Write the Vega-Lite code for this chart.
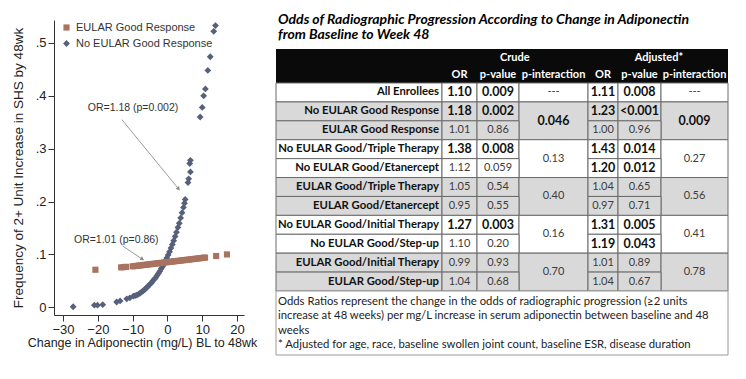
{
  "$schema": "https://vega.github.io/schema/vega-lite/v6.json",
  "background": "white",
  "padding": {"left": 11, "top": 12, "right": 5, "bottom": 5},
  "config": {"view": {"stroke": null}, "font": "Liberation Sans", "axis": {"labelOverlap": false}},
  "spacing": 32,
  "bounds": "flush",
  "datasets": {
    "points": [
      {"x": -27.1, "y": 0.001, "g": "No EULAR Good Response"},
      {"x": -21.0, "y": 0.004, "g": "No EULAR Good Response"},
      {"x": -20.1, "y": 0.004, "g": "No EULAR Good Response"},
      {"x": -18.6, "y": 0.005, "g": "No EULAR Good Response"},
      {"x": -14.6, "y": 0.010, "g": "No EULAR Good Response"},
      {"x": -13.6, "y": 0.012, "g": "No EULAR Good Response"},
      {"x": -11.7, "y": 0.016, "g": "No EULAR Good Response"},
      {"x": -10.8, "y": 0.018, "g": "No EULAR Good Response"},
      {"x": -9.8, "y": 0.021, "g": "No EULAR Good Response"},
      {"x": -9.3, "y": 0.022, "g": "No EULAR Good Response"},
      {"x": -8.8, "y": 0.023, "g": "No EULAR Good Response"},
      {"x": -8.3, "y": 0.025, "g": "No EULAR Good Response"},
      {"x": -7.8, "y": 0.027, "g": "No EULAR Good Response"},
      {"x": -7.4, "y": 0.029, "g": "No EULAR Good Response"},
      {"x": -7.0, "y": 0.031, "g": "No EULAR Good Response"},
      {"x": -6.6, "y": 0.033, "g": "No EULAR Good Response"},
      {"x": -6.2, "y": 0.036, "g": "No EULAR Good Response"},
      {"x": -5.8, "y": 0.038, "g": "No EULAR Good Response"},
      {"x": -5.4, "y": 0.041, "g": "No EULAR Good Response"},
      {"x": -5.0, "y": 0.044, "g": "No EULAR Good Response"},
      {"x": -4.6, "y": 0.046, "g": "No EULAR Good Response"},
      {"x": -4.2, "y": 0.050, "g": "No EULAR Good Response"},
      {"x": -3.8, "y": 0.053, "g": "No EULAR Good Response"},
      {"x": -3.4, "y": 0.056, "g": "No EULAR Good Response"},
      {"x": -3.0, "y": 0.060, "g": "No EULAR Good Response"},
      {"x": -2.6, "y": 0.064, "g": "No EULAR Good Response"},
      {"x": -2.2, "y": 0.068, "g": "No EULAR Good Response"},
      {"x": -1.8, "y": 0.073, "g": "No EULAR Good Response"},
      {"x": -1.4, "y": 0.077, "g": "No EULAR Good Response"},
      {"x": -1.0, "y": 0.082, "g": "No EULAR Good Response"},
      {"x": -0.6, "y": 0.088, "g": "No EULAR Good Response"},
      {"x": -0.2, "y": 0.093, "g": "No EULAR Good Response"},
      {"x": 0.2, "y": 0.099, "g": "No EULAR Good Response"},
      {"x": 0.6, "y": 0.105, "g": "No EULAR Good Response"},
      {"x": 1.0, "y": 0.112, "g": "No EULAR Good Response"},
      {"x": 1.4, "y": 0.119, "g": "No EULAR Good Response"},
      {"x": 1.8, "y": 0.126, "g": "No EULAR Good Response"},
      {"x": 2.2, "y": 0.134, "g": "No EULAR Good Response"},
      {"x": 2.6, "y": 0.142, "g": "No EULAR Good Response"},
      {"x": 3.0, "y": 0.151, "g": "No EULAR Good Response"},
      {"x": 3.4, "y": 0.159, "g": "No EULAR Good Response"},
      {"x": 3.8, "y": 0.169, "g": "No EULAR Good Response"},
      {"x": 4.2, "y": 0.179, "g": "No EULAR Good Response"},
      {"x": 4.6, "y": 0.189, "g": "No EULAR Good Response"},
      {"x": 4.9, "y": 0.197, "g": "No EULAR Good Response"},
      {"x": 5.1, "y": 0.204, "g": "No EULAR Good Response"},
      {"x": 5.9, "y": 0.236, "g": "No EULAR Good Response"},
      {"x": 6.1, "y": 0.243, "g": "No EULAR Good Response"},
      {"x": 6.6, "y": 0.256, "g": "No EULAR Good Response"},
      {"x": 6.4, "y": 0.272, "g": "No EULAR Good Response"},
      {"x": 6.6, "y": 0.278, "g": "No EULAR Good Response"},
      {"x": 9.4, "y": 0.360, "g": "No EULAR Good Response"},
      {"x": 10.0, "y": 0.378, "g": "No EULAR Good Response"},
      {"x": 10.4, "y": 0.400, "g": "No EULAR Good Response"},
      {"x": 10.9, "y": 0.413, "g": "No EULAR Good Response"},
      {"x": 11.6, "y": 0.448, "g": "No EULAR Good Response"},
      {"x": 12.3, "y": 0.474, "g": "No EULAR Good Response"},
      {"x": 13.3, "y": 0.522, "g": "No EULAR Good Response"},
      {"x": 13.8, "y": 0.533, "g": "No EULAR Good Response"},
      {"x": -20.7, "y": 0.071, "g": "EULAR Good Response"},
      {"x": -13.3, "y": 0.0755, "g": "EULAR Good Response"},
      {"x": -12.6, "y": 0.076, "g": "EULAR Good Response"},
      {"x": -11.9, "y": 0.0765, "g": "EULAR Good Response"},
      {"x": -10.0, "y": 0.0775, "g": "EULAR Good Response"},
      {"x": -9.4, "y": 0.0780, "g": "EULAR Good Response"},
      {"x": -8.8, "y": 0.0784, "g": "EULAR Good Response"},
      {"x": -8.2, "y": 0.0789, "g": "EULAR Good Response"},
      {"x": -7.6, "y": 0.0794, "g": "EULAR Good Response"},
      {"x": -7.0, "y": 0.0799, "g": "EULAR Good Response"},
      {"x": -6.4, "y": 0.0803, "g": "EULAR Good Response"},
      {"x": -5.8, "y": 0.0808, "g": "EULAR Good Response"},
      {"x": -5.2, "y": 0.0813, "g": "EULAR Good Response"},
      {"x": -4.6, "y": 0.0818, "g": "EULAR Good Response"},
      {"x": -4.0, "y": 0.0822, "g": "EULAR Good Response"},
      {"x": -3.4, "y": 0.0827, "g": "EULAR Good Response"},
      {"x": -2.8, "y": 0.0832, "g": "EULAR Good Response"},
      {"x": -2.2, "y": 0.0837, "g": "EULAR Good Response"},
      {"x": -1.6, "y": 0.0841, "g": "EULAR Good Response"},
      {"x": -1.0, "y": 0.0846, "g": "EULAR Good Response"},
      {"x": -0.4, "y": 0.0851, "g": "EULAR Good Response"},
      {"x": 0.2, "y": 0.0856, "g": "EULAR Good Response"},
      {"x": 0.8, "y": 0.0860, "g": "EULAR Good Response"},
      {"x": 1.4, "y": 0.0865, "g": "EULAR Good Response"},
      {"x": 2.0, "y": 0.0870, "g": "EULAR Good Response"},
      {"x": 2.6, "y": 0.0875, "g": "EULAR Good Response"},
      {"x": 3.2, "y": 0.0879, "g": "EULAR Good Response"},
      {"x": 3.8, "y": 0.0884, "g": "EULAR Good Response"},
      {"x": 4.4, "y": 0.0889, "g": "EULAR Good Response"},
      {"x": 5.0, "y": 0.0894, "g": "EULAR Good Response"},
      {"x": 5.6, "y": 0.0898, "g": "EULAR Good Response"},
      {"x": 6.2, "y": 0.0903, "g": "EULAR Good Response"},
      {"x": 6.8, "y": 0.0908, "g": "EULAR Good Response"},
      {"x": 7.4, "y": 0.0913, "g": "EULAR Good Response"},
      {"x": 8.0, "y": 0.0917, "g": "EULAR Good Response"},
      {"x": 8.6, "y": 0.0922, "g": "EULAR Good Response"},
      {"x": 9.2, "y": 0.0927, "g": "EULAR Good Response"},
      {"x": 9.8, "y": 0.0932, "g": "EULAR Good Response"},
      {"x": 10.4, "y": 0.0937, "g": "EULAR Good Response"},
      {"x": 10.8, "y": 0.0940, "g": "EULAR Good Response"},
      {"x": 14.0, "y": 0.0970, "g": "EULAR Good Response"},
      {"x": 17.1, "y": 0.1000, "g": "EULAR Good Response"}
    ],
    "notes": [
      {"label": "OR=1.18 (p=0.002)", "tx": -9.9, "ty": 0.377, "ax": -13.1, "ay": 0.355, "bx": 3.2, "by": 0.224},
      {"label": "OR=1.01 (p=0.86)", "tx": -14.7, "ty": 0.128, "ax": -12.9, "ay": 0.116, "bx": -7.2, "by": 0.091}
    ],
    "cells": [
      {"t": "Crude", "kind": "head", "r0": -2, "r1": -1, "rm": -1.5, "c0": 1, "c1": 4, "cm": 2.9, "b": true, "grp": "H"},
      {"t": "Adjusted*", "kind": "head", "r0": -2, "r1": -1, "rm": -1.5, "c0": 4, "c1": 7, "cm": 5.95, "b": true, "grp": "H"},
      {"t": "OR", "kind": "head", "r0": -1, "r1": 0, "rm": -0.5, "c0": 1, "c1": 2, "cm": 1.5, "b": true, "grp": "H"},
      {"t": "p-value", "kind": "head", "r0": -1, "r1": 0, "rm": -0.5, "c0": 2, "c1": 3, "cm": 2.5, "b": true, "grp": "H"},
      {"t": "p-interaction", "kind": "head", "r0": -1, "r1": 0, "rm": -0.5, "c0": 3, "c1": 4, "cm": 3.5, "b": true, "grp": "H"},
      {"t": "OR", "kind": "head", "r0": -1, "r1": 0, "rm": -0.5, "c0": 4, "c1": 5, "cm": 4.5, "b": true, "grp": "H"},
      {"t": "p-value", "kind": "head", "r0": -1, "r1": 0, "rm": -0.5, "c0": 5, "c1": 6, "cm": 5.5, "b": true, "grp": "H"},
      {"t": "p-interaction", "kind": "head", "r0": -1, "r1": 0, "rm": -0.5, "c0": 6, "c1": 7, "cm": 6.5, "b": true, "grp": "H"},

      {"t": "All Enrollees", "kind": "label", "r0": 0, "r1": 1, "rm": 0.5, "c0": 0, "c1": 1, "cm": 0.5, "b": true, "grp": "A"},
      {"t": "1.10", "kind": "value", "r0": 0, "r1": 1, "rm": 0.5, "c0": 1, "c1": 2, "cm": 1.5, "b": true, "grp": "A"},
      {"t": "0.009", "kind": "value", "r0": 0, "r1": 1, "rm": 0.5, "c0": 2, "c1": 3, "cm": 2.5, "b": true, "grp": "A"},
      {"t": "---", "kind": "value", "r0": 0, "r1": 1, "rm": 0.5, "c0": 3, "c1": 4, "cm": 3.5, "b": false, "grp": "A"},
      {"t": "1.11", "kind": "value", "r0": 0, "r1": 1, "rm": 0.5, "c0": 4, "c1": 5, "cm": 4.5, "b": true, "grp": "A"},
      {"t": "0.008", "kind": "value", "r0": 0, "r1": 1, "rm": 0.5, "c0": 5, "c1": 6, "cm": 5.5, "b": true, "grp": "A"},
      {"t": "---", "kind": "value", "r0": 0, "r1": 1, "rm": 0.5, "c0": 6, "c1": 7, "cm": 6.5, "b": false, "grp": "A"},

      {"t": "No EULAR Good Response", "kind": "label", "r0": 1, "r1": 2, "rm": 1.5, "c0": 0, "c1": 1, "cm": 0.5, "b": true, "grp": "B"},
      {"t": "1.18", "kind": "value", "r0": 1, "r1": 2, "rm": 1.5, "c0": 1, "c1": 2, "cm": 1.5, "b": true, "grp": "B"},
      {"t": "0.002", "kind": "value", "r0": 1, "r1": 2, "rm": 1.5, "c0": 2, "c1": 3, "cm": 2.5, "b": true, "grp": "B"},
      {"t": "0.046", "kind": "value", "r0": 1, "r1": 3, "rm": 2, "c0": 3, "c1": 4, "cm": 3.5, "b": true, "grp": "B"},
      {"t": "1.23", "kind": "value", "r0": 1, "r1": 2, "rm": 1.5, "c0": 4, "c1": 5, "cm": 4.5, "b": true, "grp": "B"},
      {"t": "<0.001", "kind": "value", "r0": 1, "r1": 2, "rm": 1.5, "c0": 5, "c1": 6, "cm": 5.5, "b": true, "grp": "B"},
      {"t": "0.009", "kind": "value", "r0": 1, "r1": 3, "rm": 2, "c0": 6, "c1": 7, "cm": 6.5, "b": true, "grp": "B"},

      {"t": "EULAR Good Response", "kind": "label", "r0": 2, "r1": 3, "rm": 2.5, "c0": 0, "c1": 1, "cm": 0.5, "b": true, "grp": "B"},
      {"t": "1.01", "kind": "value", "r0": 2, "r1": 3, "rm": 2.5, "c0": 1, "c1": 2, "cm": 1.5, "b": false, "grp": "B"},
      {"t": "0.86", "kind": "value", "r0": 2, "r1": 3, "rm": 2.5, "c0": 2, "c1": 3, "cm": 2.5, "b": false, "grp": "B"},
      {"t": "1.00", "kind": "value", "r0": 2, "r1": 3, "rm": 2.5, "c0": 4, "c1": 5, "cm": 4.5, "b": false, "grp": "B"},
      {"t": "0.96", "kind": "value", "r0": 2, "r1": 3, "rm": 2.5, "c0": 5, "c1": 6, "cm": 5.5, "b": false, "grp": "B"},

      {"t": "No EULAR Good/Triple Therapy", "kind": "label", "r0": 3, "r1": 4, "rm": 3.5, "c0": 0, "c1": 1, "cm": 0.5, "b": true, "grp": "A"},
      {"t": "1.38", "kind": "value", "r0": 3, "r1": 4, "rm": 3.5, "c0": 1, "c1": 2, "cm": 1.5, "b": true, "grp": "A"},
      {"t": "0.008", "kind": "value", "r0": 3, "r1": 4, "rm": 3.5, "c0": 2, "c1": 3, "cm": 2.5, "b": true, "grp": "A"},
      {"t": "0.13", "kind": "value", "r0": 3, "r1": 5, "rm": 4, "c0": 3, "c1": 4, "cm": 3.5, "b": false, "grp": "A"},
      {"t": "1.43", "kind": "value", "r0": 3, "r1": 4, "rm": 3.5, "c0": 4, "c1": 5, "cm": 4.5, "b": true, "grp": "A"},
      {"t": "0.014", "kind": "value", "r0": 3, "r1": 4, "rm": 3.5, "c0": 5, "c1": 6, "cm": 5.5, "b": true, "grp": "A"},
      {"t": "0.27", "kind": "value", "r0": 3, "r1": 5, "rm": 4, "c0": 6, "c1": 7, "cm": 6.5, "b": false, "grp": "A"},

      {"t": "No EULAR Good/Etanercept", "kind": "label", "r0": 4, "r1": 5, "rm": 4.5, "c0": 0, "c1": 1, "cm": 0.5, "b": true, "grp": "A"},
      {"t": "1.12", "kind": "value", "r0": 4, "r1": 5, "rm": 4.5, "c0": 1, "c1": 2, "cm": 1.5, "b": false, "grp": "A"},
      {"t": "0.059", "kind": "value", "r0": 4, "r1": 5, "rm": 4.5, "c0": 2, "c1": 3, "cm": 2.5, "b": false, "grp": "A"},
      {"t": "1.20", "kind": "value", "r0": 4, "r1": 5, "rm": 4.5, "c0": 4, "c1": 5, "cm": 4.5, "b": true, "grp": "A"},
      {"t": "0.012", "kind": "value", "r0": 4, "r1": 5, "rm": 4.5, "c0": 5, "c1": 6, "cm": 5.5, "b": true, "grp": "A"},

      {"t": "EULAR Good/Triple Therapy", "kind": "label", "r0": 5, "r1": 6, "rm": 5.5, "c0": 0, "c1": 1, "cm": 0.5, "b": true, "grp": "B"},
      {"t": "1.05", "kind": "value", "r0": 5, "r1": 6, "rm": 5.5, "c0": 1, "c1": 2, "cm": 1.5, "b": false, "grp": "B"},
      {"t": "0.54", "kind": "value", "r0": 5, "r1": 6, "rm": 5.5, "c0": 2, "c1": 3, "cm": 2.5, "b": false, "grp": "B"},
      {"t": "0.40", "kind": "value", "r0": 5, "r1": 7, "rm": 6, "c0": 3, "c1": 4, "cm": 3.5, "b": false, "grp": "B"},
      {"t": "1.04", "kind": "value", "r0": 5, "r1": 6, "rm": 5.5, "c0": 4, "c1": 5, "cm": 4.5, "b": false, "grp": "B"},
      {"t": "0.65", "kind": "value", "r0": 5, "r1": 6, "rm": 5.5, "c0": 5, "c1": 6, "cm": 5.5, "b": false, "grp": "B"},
      {"t": "0.56", "kind": "value", "r0": 5, "r1": 7, "rm": 6, "c0": 6, "c1": 7, "cm": 6.5, "b": false, "grp": "B"},

      {"t": "EULAR Good/Etanercept", "kind": "label", "r0": 6, "r1": 7, "rm": 6.5, "c0": 0, "c1": 1, "cm": 0.5, "b": true, "grp": "B"},
      {"t": "0.95", "kind": "value", "r0": 6, "r1": 7, "rm": 6.5, "c0": 1, "c1": 2, "cm": 1.5, "b": false, "grp": "B"},
      {"t": "0.55", "kind": "value", "r0": 6, "r1": 7, "rm": 6.5, "c0": 2, "c1": 3, "cm": 2.5, "b": false, "grp": "B"},
      {"t": "0.97", "kind": "value", "r0": 6, "r1": 7, "rm": 6.5, "c0": 4, "c1": 5, "cm": 4.5, "b": false, "grp": "B"},
      {"t": "0.71", "kind": "value", "r0": 6, "r1": 7, "rm": 6.5, "c0": 5, "c1": 6, "cm": 5.5, "b": false, "grp": "B"},

      {"t": "No EULAR Good/Initial Therapy", "kind": "label", "r0": 7, "r1": 8, "rm": 7.5, "c0": 0, "c1": 1, "cm": 0.5, "b": true, "grp": "A"},
      {"t": "1.27", "kind": "value", "r0": 7, "r1": 8, "rm": 7.5, "c0": 1, "c1": 2, "cm": 1.5, "b": true, "grp": "A"},
      {"t": "0.003", "kind": "value", "r0": 7, "r1": 8, "rm": 7.5, "c0": 2, "c1": 3, "cm": 2.5, "b": true, "grp": "A"},
      {"t": "0.16", "kind": "value", "r0": 7, "r1": 9, "rm": 8, "c0": 3, "c1": 4, "cm": 3.5, "b": false, "grp": "A"},
      {"t": "1.31", "kind": "value", "r0": 7, "r1": 8, "rm": 7.5, "c0": 4, "c1": 5, "cm": 4.5, "b": true, "grp": "A"},
      {"t": "0.005", "kind": "value", "r0": 7, "r1": 8, "rm": 7.5, "c0": 5, "c1": 6, "cm": 5.5, "b": true, "grp": "A"},
      {"t": "0.41", "kind": "value", "r0": 7, "r1": 9, "rm": 8, "c0": 6, "c1": 7, "cm": 6.5, "b": false, "grp": "A"},

      {"t": "No EULAR Good/Step-up", "kind": "label", "r0": 8, "r1": 9, "rm": 8.5, "c0": 0, "c1": 1, "cm": 0.5, "b": true, "grp": "A"},
      {"t": "1.10", "kind": "value", "r0": 8, "r1": 9, "rm": 8.5, "c0": 1, "c1": 2, "cm": 1.5, "b": false, "grp": "A"},
      {"t": "0.20", "kind": "value", "r0": 8, "r1": 9, "rm": 8.5, "c0": 2, "c1": 3, "cm": 2.5, "b": false, "grp": "A"},
      {"t": "1.19", "kind": "value", "r0": 8, "r1": 9, "rm": 8.5, "c0": 4, "c1": 5, "cm": 4.5, "b": true, "grp": "A"},
      {"t": "0.043", "kind": "value", "r0": 8, "r1": 9, "rm": 8.5, "c0": 5, "c1": 6, "cm": 5.5, "b": true, "grp": "A"},

      {"t": "EULAR Good/Initial Therapy", "kind": "label", "r0": 9, "r1": 10, "rm": 9.5, "c0": 0, "c1": 1, "cm": 0.5, "b": true, "grp": "B"},
      {"t": "0.99", "kind": "value", "r0": 9, "r1": 10, "rm": 9.5, "c0": 1, "c1": 2, "cm": 1.5, "b": false, "grp": "B"},
      {"t": "0.93", "kind": "value", "r0": 9, "r1": 10, "rm": 9.5, "c0": 2, "c1": 3, "cm": 2.5, "b": false, "grp": "B"},
      {"t": "0.70", "kind": "value", "r0": 9, "r1": 11, "rm": 10, "c0": 3, "c1": 4, "cm": 3.5, "b": false, "grp": "B"},
      {"t": "1.01", "kind": "value", "r0": 9, "r1": 10, "rm": 9.5, "c0": 4, "c1": 5, "cm": 4.5, "b": false, "grp": "B"},
      {"t": "0.89", "kind": "value", "r0": 9, "r1": 10, "rm": 9.5, "c0": 5, "c1": 6, "cm": 5.5, "b": false, "grp": "B"},
      {"t": "0.78", "kind": "value", "r0": 9, "r1": 11, "rm": 10, "c0": 6, "c1": 7, "cm": 6.5, "b": false, "grp": "B"},

      {"t": "EULAR Good/Step-up", "kind": "label", "r0": 10, "r1": 11, "rm": 10.5, "c0": 0, "c1": 1, "cm": 0.5, "b": true, "grp": "B"},
      {"t": "1.04", "kind": "value", "r0": 10, "r1": 11, "rm": 10.5, "c0": 1, "c1": 2, "cm": 1.5, "b": false, "grp": "B"},
      {"t": "0.68", "kind": "value", "r0": 10, "r1": 11, "rm": 10.5, "c0": 2, "c1": 3, "cm": 2.5, "b": false, "grp": "B"},
      {"t": "1.04", "kind": "value", "r0": 10, "r1": 11, "rm": 10.5, "c0": 4, "c1": 5, "cm": 4.5, "b": false, "grp": "B"},
      {"t": "0.67", "kind": "value", "r0": 10, "r1": 11, "rm": 10.5, "c0": 5, "c1": 6, "cm": 5.5, "b": false, "grp": "B"}
    ]
  },
  "hconcat": [
    {
      "width": 190,
      "height": 295,
      "encoding": {
        "x": {
          "type": "quantitative",
          "scale": {"domain": [-32.6, 22], "nice": false, "zero": false},
          "axis": {
            "title": "Change in Adiponectin (mg/L) BL to 48wk",
            "values": [-30, -20, -10, 0, 10, 20],
            "grid": false, "tickSize": 6, "labelPadding": 2, "labelFlush": false, "labelOverlap": false,
            "labelFontSize": 13, "labelFont": "Liberation Sans", "labelColor": "#222",
            "titleFontSize": 12.5, "titleFont": "Liberation Sans", "titleFontWeight": "normal", "titleColor": "#222",
            "titlePadding": 0, "titleX": 88,
            "domainColor": "#333", "tickColor": "#333"
          }
        },
        "y": {
          "type": "quantitative",
          "scale": {"domain": [-0.0146, 0.5435], "nice": false, "zero": false},
          "axis": {
            "title": "Frequency of 2+ Unit Increase in SHS by 48wk",
            "values": [0, 0.1, 0.2, 0.3, 0.4, 0.5],
            "labelExpr": "datum.value == 0 ? '0' : substring(format(datum.value, '.1f'), 1)",
            "grid": false, "tickSize": 6, "labelPadding": 2, "labelOverlap": false,
            "labelFontSize": 13, "labelFont": "Liberation Sans", "labelColor": "#222",
            "titleFontSize": 13.5, "titleFont": "Liberation Sans", "titleFontWeight": "normal", "titleColor": "#222",
            "titlePadding": 10,
            "domainColor": "#333", "tickColor": "#333"
          }
        }
      },
      "layer": [
        {
          "data": {"name": "points"},
          "mark": {"type": "point", "filled": true, "opacity": 1},
          "encoding": {
            "x": {"field": "x"},
            "y": {"field": "y"},
            "color": {
              "field": "g", "type": "nominal",
              "scale": {"domain": ["EULAR Good Response", "No EULAR Good Response"], "range": ["#a8735f", "#56607a"]},
              "legend": {
                "title": null, "orient": "none", "legendX": 7, "legendY": 2,
                "labelFontSize": 11, "labelFont": "Liberation Sans", "labelColor": "#333",
                "symbolSize": 36, "rowPadding": 4, "labelOffset": 4
              }
            },
            "shape": {
              "field": "g", "type": "nominal",
              "scale": {"domain": ["EULAR Good Response", "No EULAR Good Response"], "range": ["square", "diamond"]}
            },
            "size": {
              "field": "g", "type": "nominal",
              "scale": {"domain": ["EULAR Good Response", "No EULAR Good Response"], "range": [38, 46]},
              "legend": null
            }
          }
        },
        {
          "data": {"name": "notes"},
          "mark": {"type": "rule", "color": "#9a9a9a", "strokeWidth": 1},
          "encoding": {
            "x": {"field": "ax"},
            "y": {"field": "ay"},
            "x2": {"field": "bx"},
            "y2": {"field": "by"}
          }
        },
        {
          "data": {"name": "notes"},
          "mark": {"type": "point", "shape": "triangle-down", "filled": true, "color": "#8a8a8a", "size": 20, "opacity": 1},
          "encoding": {
            "x": {"field": "bx"},
            "y": {"field": "by"},
            "angle": {"field": "label", "type": "nominal", "scale": {"domain": ["OR=1.18 (p=0.002)", "OR=1.01 (p=0.86)"], "range": [320.7, 304.1]}, "legend": null}
          }
        },
        {
          "data": {"name": "notes"},
          "mark": {"type": "text", "fontSize": 10.5, "font": "Liberation Sans", "fill": "#333", "align": "center", "baseline": "middle"},
          "encoding": {
            "x": {"field": "tx"},
            "y": {"field": "ty"},
            "text": {"field": "label"}
          }
        }
      ]
    },
    {
      "width": 452,
      "height": 336,
      "encoding": {
        "x": {"type": "quantitative", "scale": {"domain": [0, 1, 2, 3, 4, 5, 6, 7], "range": [0, 166, 201, 243, 312, 342, 385, 452], "nice": false, "zero": false}, "axis": null},
        "y": {"type": "quantitative", "scale": {"domain": [-4, -2, 0, 11, 15], "range": [-2, 29, 63, 271, 335], "nice": false, "zero": false}, "axis": null}
      },
      "layer": [
        {
          "data": {"values": [{}]},
          "mark": {"type": "rect", "fill": "#0a0a0a"},
          "encoding": {
            "x": {"datum": 0},
            "x2": {"datum": 7},
            "y": {"datum": -2},
            "y2": {"datum": 0}
          }
        },
        {
          "data": {"name": "cells"},
          "transform": [{"filter": "datum.kind != 'head'"}],
          "mark": {"type": "rect", "stroke": "#6b6b6b", "strokeWidth": 1},
          "encoding": {
            "x": {"field": "c0"},
            "x2": {"field": "c1"},
            "y": {"field": "r0"},
            "y2": {"field": "r1"},
            "fill": {"field": "grp", "type": "nominal", "scale": {"domain": ["A", "B"], "range": ["#ffffff", "#d9d9d9"]}, "legend": null}
          }
        },
        {
          "data": {"values": [{}]},
          "mark": {"type": "rect", "fill": "#ffffff", "stroke": "#9a9a9a", "strokeWidth": 1},
          "encoding": {
            "x": {"datum": 0},
            "x2": {"datum": 7},
            "y": {"datum": 11},
            "y2": {"datum": 15}
          }
        },
        {
          "data": {"name": "cells"},
          "transform": [{"filter": "datum.kind == 'label'"}],
          "mark": {"type": "text", "align": "right", "baseline": "middle", "dx": -3, "font": "Lato", "fontWeight": "bold", "fontSize": 11.3, "fill": "#111"},
          "encoding": {
            "x": {"datum": 1},
            "y": {"field": "rm"},
            "text": {"field": "t"}
          }
        },
        {
          "data": {"name": "cells"},
          "transform": [{"filter": "datum.kind == 'value' && datum.b"}],
          "mark": {"type": "text", "align": "center", "baseline": "middle", "font": "Lato", "fontWeight": "bold", "fontSize": 12.5, "fill": "#111"},
          "encoding": {
            "x": {"field": "cm"},
            "y": {"field": "rm"},
            "text": {"field": "t"}
          }
        },
        {
          "data": {"name": "cells"},
          "transform": [{"filter": "datum.kind == 'value' && !datum.b"}],
          "mark": {"type": "text", "align": "center", "baseline": "middle", "font": "Lato", "fontSize": 11, "fill": "#3c3c3c"},
          "encoding": {
            "x": {"field": "cm"},
            "y": {"field": "rm"},
            "text": {"field": "t"}
          }
        },
        {
          "data": {"name": "cells"},
          "transform": [{"filter": "datum.kind == 'head'"}],
          "mark": {"type": "text", "align": "center", "baseline": "middle", "font": "Lato", "fontWeight": "bold", "fontSize": 11, "fill": "#ffffff"},
          "encoding": {
            "x": {"field": "cm"},
            "y": {"field": "rm"},
            "text": {"field": "t"}
          }
        },
        {
          "data": {"values": [{}]},
          "mark": {
            "type": "text",
            "text": ["Odds of Radiographic Progression According to Change in Adiponectin", "from Baseline to Week 48"],
            "lineHeight": 15.5, "align": "left", "baseline": "alphabetic", "dx": 2,
            "font": "Lato", "fontWeight": "bold", "fontStyle": "italic", "fontSize": 14, "fill": "#000"
          },
          "encoding": {
            "x": {"datum": 0},
            "y": {"datum": -3.645}
          }
        },
        {
          "data": {"values": [{}]},
          "mark": {
            "type": "text",
            "text": [
              "Odds Ratios represent the change in the odds of radiographic progression (≥2 units",
              "increase at 48 weeks) per mg/L increase in serum adiponectin between baseline and 48",
              "weeks",
              "* Adjusted for age, race, baseline swollen joint count, baseline ESR, disease duration"
            ],
            "lineHeight": 14.4, "align": "left", "baseline": "alphabetic", "dx": 2,
            "font": "Lato", "fontSize": 11.3, "fill": "#222"
          },
          "encoding": {
            "x": {"datum": 0},
            "y": {"datum": 11.875}
          }
        }
      ]
    }
  ]
}
